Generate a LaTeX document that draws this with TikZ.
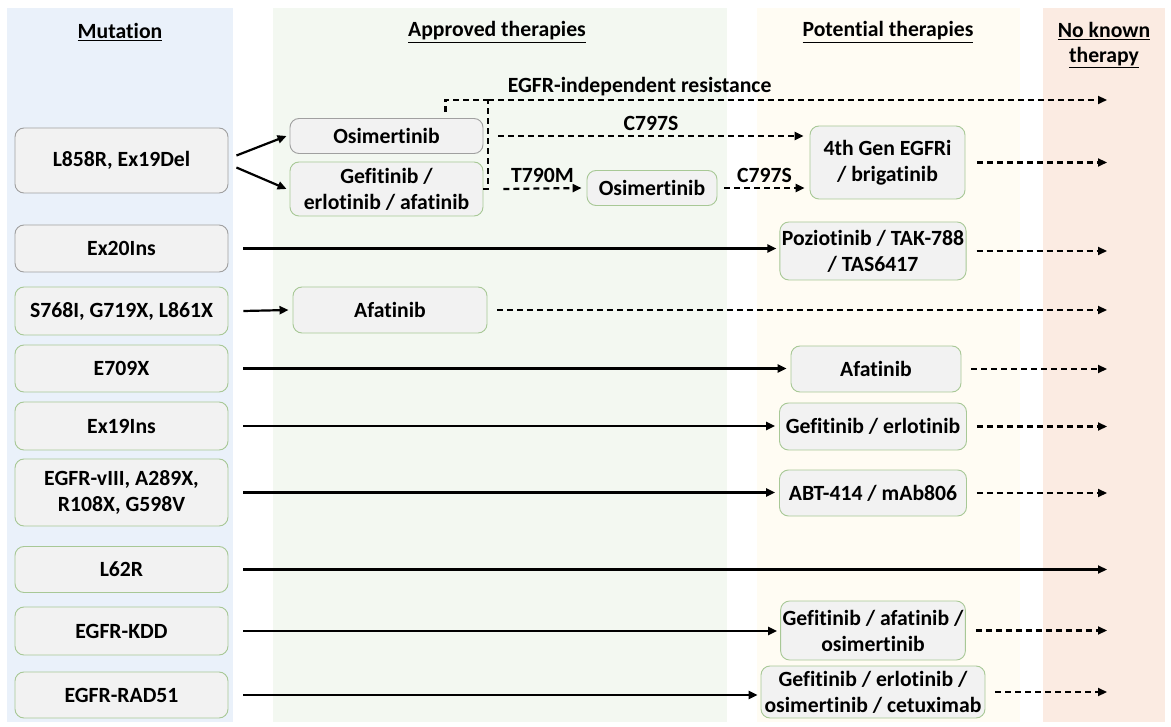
\documentclass[tikz,border=0pt]{standalone}
\usepackage{fontspec}
\setmainfont{Carlito}[Ligatures=NoCommon]
\usepackage{tikz}
\usetikzlibrary{arrows.meta}
\usepackage{xcolor}

\definecolor{mutblue}{RGB}{234,241,250}
\definecolor{apprgreen}{RGB}{243,248,241}
\definecolor{potyellow}{RGB}{255,252,243}
\definecolor{nonepeach}{RGB}{251,235,226}
\definecolor{boxfill}{RGB}{242,242,242}
\definecolor{boxgray}{RGB}{160,160,160}
\definecolor{boxgreen}{RGB}{168,200,150}

\tikzset{
  box/.style={draw=boxgray, fill=boxfill, rounded corners=9pt, line width=0.9pt,
    align=center, inner sep=2pt, font=\fontsize{21.7}{26}\selectfont\bfseries},
  gbox/.style={box, draw=boxgreen},
  mutbox/.style={box, minimum width=213pt},
  gmutbox/.style={gbox, minimum width=213pt},
  header/.style={font=\fontsize{21.7}{25}\selectfont\bfseries, align=center},
  solidarrow/.style={line width=2.2pt, -{Triangle[length=9pt,width=8pt]}},
  dashline/.style={line width=2.2pt, dash pattern=on 6pt off 4pt},
  dasharrow/.style={dashline, -{Triangle[length=9pt,width=8pt]}},
  pathlabel/.style={font=\fontsize{21.7}{26}\selectfont\bfseries, inner sep=4.5pt}
}

\begin{document}
\begin{tikzpicture}[x=1pt,y=-1pt]
	\path[use as bounding box, fill=white] (0,0) rectangle (1171,727);
	% Columns
	\fill[mutblue] (7,8) rectangle (233,722);
	\fill[apprgreen] (273,8) rectangle (727,722);
	\fill[potyellow] (757,8) rectangle (1020,722);
	\fill[nonepeach] (1043,8) rectangle (1165,722);
	% Column titles
	\node[header] (hmut) at (120,32) {\underline{Mutation}};
	\node[header] (happr) at (497,32) {\underline{Approved therapies}};
	\node[header] (hpot) at (888,32) {\underline{Potential therapies}};
	\node[header] (hnone) at (1104,45) {\underline{No known}\\\underline{therapy}};
	% Mutations
	\node[mutbox, minimum height=65pt] (l858) at (121.5,160.5) {L858R, Ex19Del};
	\node[mutbox, minimum height=47pt] (ex20) at (121.5,248.5) {Ex20Ins};
	\node[gmutbox, minimum height=48pt] (s768) at (121.5,311) {S768I, G719X, L861X};
	\node[gmutbox, minimum height=47pt] (e709) at (121.5,368.5) {E709X};
	\node[gmutbox, minimum height=48pt] (ex19) at (121.5,426) {Ex19Ins};
	\node[gmutbox, minimum height=67pt] (viii) at (121.5,492.5) {EGFR-vIII, A289X,\\R108X, G598V};
	\node[gmutbox, minimum height=46pt] (l62) at (121.5,569.5) {L62R};
	\node[gmutbox, minimum height=48pt] (kdd) at (121.5,631) {EGFR-KDD};
	\node[gmutbox, minimum height=46pt] (rad51) at (121.5,695) {EGFR-RAD51};
	% Approved therapies
	\node[box, minimum width=193pt, minimum height=35pt] (osi1) at (386.5,136) {Osimertinib};
	\node[gbox, minimum width=193pt, minimum height=54pt] (gef1) at (386.5,189) {Gefitinib /\\erlotinib / afatinib};
	\node[gbox, minimum width=130pt, minimum height=35pt] (osi2) at (652,188) {Osimertinib};
	\node[gbox, minimum width=194pt, minimum height=46pt] (afa1) at (390,310) {Afatinib};
	% Potential therapies
	\node[gbox, minimum width=155pt, minimum height=73pt] (gen4) at (887.5,162.5) {4th Gen EGFRi\\/ brigatinib};
	\node[gbox, minimum width=185pt, minimum height=58pt] (poz) at (873,251) {Poziotinib / TAK-788\\/ TAS6417};
	\node[gbox, minimum width=170pt, minimum height=46pt] (afa2) at (876,369) {Afatinib};
	\node[gbox, minimum width=187pt, minimum height=47pt] (gef2) at (873,426.5) {Gefitinib / erlotinib};
	\node[gbox, minimum width=187pt, minimum height=46pt] (abt) at (873,493) {ABT-414 / mAb806};
	\node[gbox, minimum width=184pt, minimum height=59pt] (gef3) at (873,630.5) {Gefitinib / afatinib /\\osimertinib};
	\node[gbox, minimum width=224pt, minimum height=52pt] (gef4) at (873,692) {Gefitinib / erlotinib /\\osimertinib / cetuximab};
	% Free ends
	\coordinate (nkt) at (1107,0);
	\coordinate (split) at (488,100);
	% First row
	\draw[solidarrow] ([xshift=8pt,yshift=5pt]l858.east) -- ([xshift=-3pt]osi1.west);
	\draw[solidarrow] ([xshift=8pt,yshift=-7pt]l858.east) -- ([xshift=-3pt]gef1.west);
	\draw[dashline] (gef1.east) -| (split);
	\draw[dashline] ([xshift=59pt,yshift=6pt]osi1.north) |- (split);
	\draw[dasharrow] (split) -- (split -| nkt) node[pathlabel, above, pos=.245, inner sep=3pt] {EGFR-independent resistance};
	\draw[dasharrow] ([xshift=15pt]osi1.east) -- ([xshift=-6pt]osi1.east -| gen4.west) node[pathlabel, above, midway] {C797S};
	\draw[dasharrow] ([xshift=20pt]gef1.east) -- ([xshift=-5pt]osi2.west) node[pathlabel, above, midway] {T790M};
	\draw[dasharrow] ([xshift=7pt]osi2.east) -- ([xshift=-5pt]osi2.east -| gen4.west) node[pathlabel, above, midway] {C797S};
	\draw[dasharrow] ([xshift=12pt]gen4.east) -- (gen4.east -| nkt);
	% Other rows
	\draw[solidarrow] ([xshift=15pt]ex20.east) -- ([xshift=-3pt]ex20.east -| poz.west);
	\draw[dasharrow] ([xshift=10pt]poz.east) -- (poz.east -| nkt);
	\draw[solidarrow] ([xshift=15pt]s768.east) -- ([xshift=-4pt]afa1.west);
	\draw[dasharrow] ([xshift=10pt]afa1.east) -- (afa1.east -| nkt);
	\draw[solidarrow] ([xshift=15pt]e709.east) -- ([xshift=-4pt]e709.east -| afa2.west);
	\draw[dasharrow] ([xshift=10pt]afa2.east) -- (afa2.east -| nkt);
	\draw[solidarrow] ([xshift=15pt]ex19.east) -- ([xshift=-4pt]ex19.east -| gef2.west);
	\draw[dasharrow] ([xshift=10pt]gef2.east) -- (gef2.east -| nkt);
	\draw[solidarrow] ([xshift=15pt]viii.east) -- ([xshift=-4pt]viii.east -| abt.west);
	\draw[dasharrow] ([xshift=10pt]abt.east) -- (abt.east -| nkt);
	\draw[solidarrow] ([xshift=15pt]l62.east) -- (l62.east -| nkt);
	\draw[solidarrow] ([xshift=15pt]kdd.east) -- ([xshift=-3pt]kdd.east -| gef3.west);
	\draw[dasharrow] ([xshift=10pt]gef3.east) -- (gef3.east -| nkt);
	\draw[solidarrow] ([xshift=15pt]rad51.east) -- ([xshift=-3pt]rad51.east -| gef4.west);
	\draw[dasharrow] ([xshift=10pt]gef4.east) -- (gef4.east -| nkt);
\end{tikzpicture}
\end{document}
